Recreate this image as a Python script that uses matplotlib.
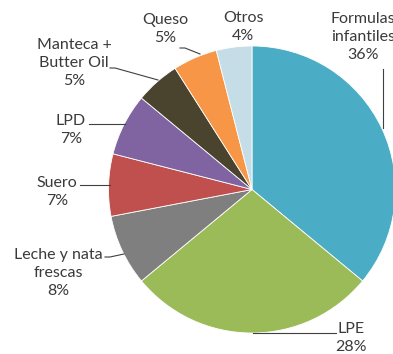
import matplotlib.pyplot as plt

# Share of each product group
labels = ["Formulas\ninfantiles", "LPE", "Leche y nata\nfrescas", "Suero", "LPD",
          "Manteca +\nButter Oil", "Queso", "Otros"]
values = [36, 28, 8, 7, 7, 5, 5, 4]
colors = ["#4BACC6", "#9BBB59", "#7F7F7F", "#C0504D", "#8064A2",
          "#4A432D", "#F79646", "#C4DDE6"]

W, H = 393, 354
fig = plt.figure(figsize=(W / 100, H / 100), dpi=100)
ax = fig.add_axes([0, 0, 1, 1])

cx, cy, r = 252, 189.5, 143.5
# y axis runs downwards, so angle 270 points up and counterclock turns clockwise on screen
ax.pie(values, center=(cx, cy), radius=r, startangle=270, counterclock=True,
       colors=colors, wedgeprops=dict(edgecolor="white", linewidth=0.6),
       frame=True)
ax.set_xlim(0, W)
ax.set_ylim(H, 0)
ax.axis("off")

txt = dict(fontsize=11.5, color="#3a3a3a", ha="center", va="center",
           family=["Lato", "DejaVu Sans"], linespacing=1.35)

# label text positions (centre of the text block)
label_pos = [(363, 37), (351, 338), (58, 273), (57, 192), (71, 130),
             (74, 63), (165, 29), (243, 27)]
for lab, v, (x, y) in zip(labels, values, label_pos):
    ax.text(x, y, f"{lab}\n{v}%", **txt)

# leader lines
lc = dict(color="#404040", linewidth=0.8)
ax.plot([383, 383], [69, 128], **lc)
ax.plot([253, 336], [333, 333], **lc)
ax.plot([105, 110, 124], [257, 257, 254], **lc)
ax.plot([80, 110], [185, 185], **lc)
ax.plot([89, 125], [124, 124], **lc)
ax.plot([110, 115, 158], [68, 68, 80], **lc)
ax.plot([180, 185, 200], [48, 48, 54], **lc)

fig.savefig("out.png", dpi=100)
